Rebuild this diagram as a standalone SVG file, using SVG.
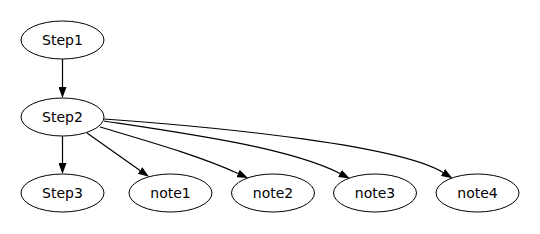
<svg xmlns="http://www.w3.org/2000/svg" width="540" height="234" viewBox="0 0 540 234">
<style>
.n ellipse{fill:none;stroke:#000;stroke-width:1}
.n text{font-family:"DejaVu Sans",sans-serif;font-size:14px;text-anchor:middle;fill:#000}
.e path{fill:none;stroke:#000;stroke-width:1.2}
</style>
<defs>
<marker id="ah" viewBox="0 0 11 8" refX="0" refY="4" markerWidth="11" markerHeight="8" markerUnits="userSpaceOnUse" orient="auto">
<path d="M0,0 L11,4 L0,8 Z" fill="#000"/>
</marker>
</defs>
<rect width="540" height="234" fill="#fff"/>
<g class="e" id="edges">
<path d="M62.5,59 L62.5,87" marker-end="url(#ah)"/>
<path d="M62.5,136 L62.5,163" marker-end="url(#ah)"/>
<path d="M87,133 L140,170.5" marker-end="url(#ah)"/>
<path d="M100,127 C150,142 200,156 238,173.5" marker-end="url(#ah)"/>
<path d="M104,121 C190,134 290,148 340,173.5" marker-end="url(#ah)"/>
<path d="M104,119 C230,128 400,146 443,172.5" marker-end="url(#ah)"/>
</g>
<g class="n" id="Step1"><ellipse cx="62.5" cy="40" rx="41.5" ry="19"/><text x="62.5" y="45">Step1</text></g>
<g class="n" id="Step2"><ellipse cx="62.5" cy="117" rx="41.5" ry="19"/><text x="62.5" y="122">Step2</text></g>
<g class="n" id="Step3"><ellipse cx="62.5" cy="193" rx="41.5" ry="19"/><text x="62.5" y="198">Step3</text></g>
<g class="n" id="note1"><ellipse cx="170.5" cy="193" rx="41.5" ry="19"/><text x="170.5" y="198">note1</text></g>
<g class="n" id="note2"><ellipse cx="273" cy="193" rx="41.5" ry="19"/><text x="273" y="198">note2</text></g>
<g class="n" id="note3"><ellipse cx="375" cy="193" rx="41.5" ry="19"/><text x="375" y="198">note3</text></g>
<g class="n" id="note4"><ellipse cx="477.5" cy="193" rx="41.5" ry="19"/><text x="477.5" y="198">note4</text></g>
</svg>
